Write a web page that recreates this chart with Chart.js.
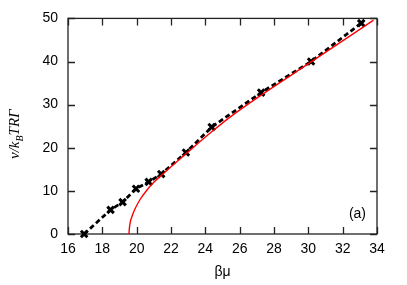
<!DOCTYPE html>
<html>
<head>
<meta charset="utf-8">
<script src="https://cdn.jsdelivr.net/npm/chart.js@4"></script>
<style>
  html, body { margin: 0; padding: 0; background: #fff; }
  canvas { display: block; }
</style>
</head>
<body>
<canvas id="chart" width="407" height="285"></canvas>
<script>
// simulation points (black crosses, dashed)
const simX = [16.94, 18.48, 19.18, 19.96, 20.70, 21.43, 22.87, 24.37, 27.25, 30.16, 33.08];
const simY = [0, 5.6, 7.4, 10.5, 12.1, 13.9, 18.9, 24.8, 32.8, 40.0, 48.9];

// theory curve (red)
const theoryX = [19.55, 19.58, 19.63, 19.72, 19.9, 20.2, 20.6, 21.0, 21.46, 22.0, 22.87, 24.37, 25.44, 27.29, 30.16, 33.8];
const theoryY = [0, 1.5, 2.8, 4.0, 5.8, 8.0, 10.2, 12.0, 13.7, 15.6, 18.6, 23.7, 27.1, 32.3, 39.9, 49.6];

const xTicks = [16, 18, 20, 22, 24, 26, 28, 30, 32, 34];
const yTicks = [0, 10, 20, 30, 40, 50];

const tickFont = { family: '"Liberation Sans", Arial, sans-serif', size: 14 };

const toPoints = (xs, ys) => xs.map((x, i) => ({ x: x, y: ys[i] }));

// frame + inward ticks on all four sides
const framePlugin = {
    id: 'frame',
    beforeDatasetsDraw(chart) {
        const { ctx, chartArea: a, scales } = chart;
        ctx.save();
        ctx.strokeStyle = '#222';
        ctx.lineWidth = 1.3;
        ctx.strokeRect(a.left, a.top, a.right - a.left, a.bottom - a.top);
        ctx.beginPath();
        xTicks.forEach(v => {
            const px = Math.round(scales.x.getPixelForValue(v)) + 0.5;
            ctx.moveTo(px, a.bottom); ctx.lineTo(px, a.bottom - 7);
            ctx.moveTo(px, a.top); ctx.lineTo(px, a.top + 7);
        });
        yTicks.forEach(v => {
            const py = Math.round(scales.y.getPixelForValue(v)) + 0.5;
            ctx.moveTo(a.left, py); ctx.lineTo(a.left + 7, py);
            ctx.moveTo(a.right, py); ctx.lineTo(a.right - 7, py);
        });
        ctx.stroke();
        ctx.restore();
    },
    afterDraw(chart) {
        const { ctx, chartArea: a } = chart;
        ctx.save();
        ctx.fillStyle = '#000';
        // panel label
        ctx.font = '14px "Liberation Sans", Arial, sans-serif';
        ctx.textAlign = 'right';
        ctx.textBaseline = 'middle';
        ctx.fillText('(a)', a.right - 11, 214);

        // y axis title with subscript
        const main = 'italic 15px "Liberation Serif", "Times New Roman", serif';
        const sub = 'italic 10px "Liberation Serif", "Times New Roman", serif';
        ctx.font = main;
        const w1 = ctx.measureText('ν/k').width;
        const w3 = ctx.measureText('TRΓ').width;
        ctx.font = sub;
        const w2 = ctx.measureText('B').width;
        const total = w1 + w2 + w3;
        ctx.translate(19, (a.top + a.bottom) / 2 + 8);
        ctx.rotate(-Math.PI / 2);
        ctx.textAlign = 'left';
        ctx.textBaseline = 'alphabetic';
        let x = -total / 2;
        ctx.font = main;
        ctx.fillText('ν/k', x, 0);
        x += w1;
        ctx.font = sub;
        ctx.fillText('B', x, 4);
        x += w2;
        ctx.font = main;
        ctx.fillText('TRΓ', x, 0);
        ctx.restore();
    }
};

new Chart(document.getElementById('chart').getContext('2d'), {
    type: 'scatter',
    data: {
        datasets: [
            {
                label: 'theory',
                data: toPoints(theoryX, theoryY),
                showLine: true,
                borderColor: '#ff0000',
                borderWidth: 1.4,
                pointRadius: 0,
                cubicInterpolationMode: 'monotone',
                clip: false
            },
            {
                label: 'simulation',
                data: toPoints(simX, simY),
                showLine: true,
                borderColor: '#000',
                borderWidth: 2.8,
                borderDash: [5, 3],
                pointStyle: 'crossRot',
                pointRadius: 4.6,
                pointBorderWidth: 3,
                pointBorderColor: '#000',
                clip: false
            }
        ]
    },
    options: {
        responsive: false,
        animation: false,
        layout: { padding: { top: 18, right: 30, left: 0, bottom: 0 } },
        plugins: {
            legend: { display: false },
            tooltip: { enabled: false }
        },
        scales: {
            x: {
                type: 'linear',
                min: 16,
                max: 34,
                afterFit: scale => { scale.height = 51; },
                afterBuildTicks: scale => { scale.ticks = xTicks.map(v => ({ value: v })); },
                grid: { display: false, drawTicks: false },
                border: { display: false },
                ticks: { font: tickFont, color: '#000', padding: 7, maxRotation: 0 },
                title: { display: true, text: 'βμ', font: tickFont, color: '#000', padding: { top: 0, bottom: 4 } }
            },
            y: {
                type: 'linear',
                min: 0,
                max: 50,
                afterFit: scale => { scale.width = 68; },
                afterBuildTicks: scale => { scale.ticks = yTicks.map(v => ({ value: v })); },
                grid: { display: false, drawTicks: false },
                border: { display: false },
                ticks: { font: tickFont, color: '#000', padding: 10 }
            }
        }
    },
    plugins: [framePlugin]
});
</script>
</body>
</html>
